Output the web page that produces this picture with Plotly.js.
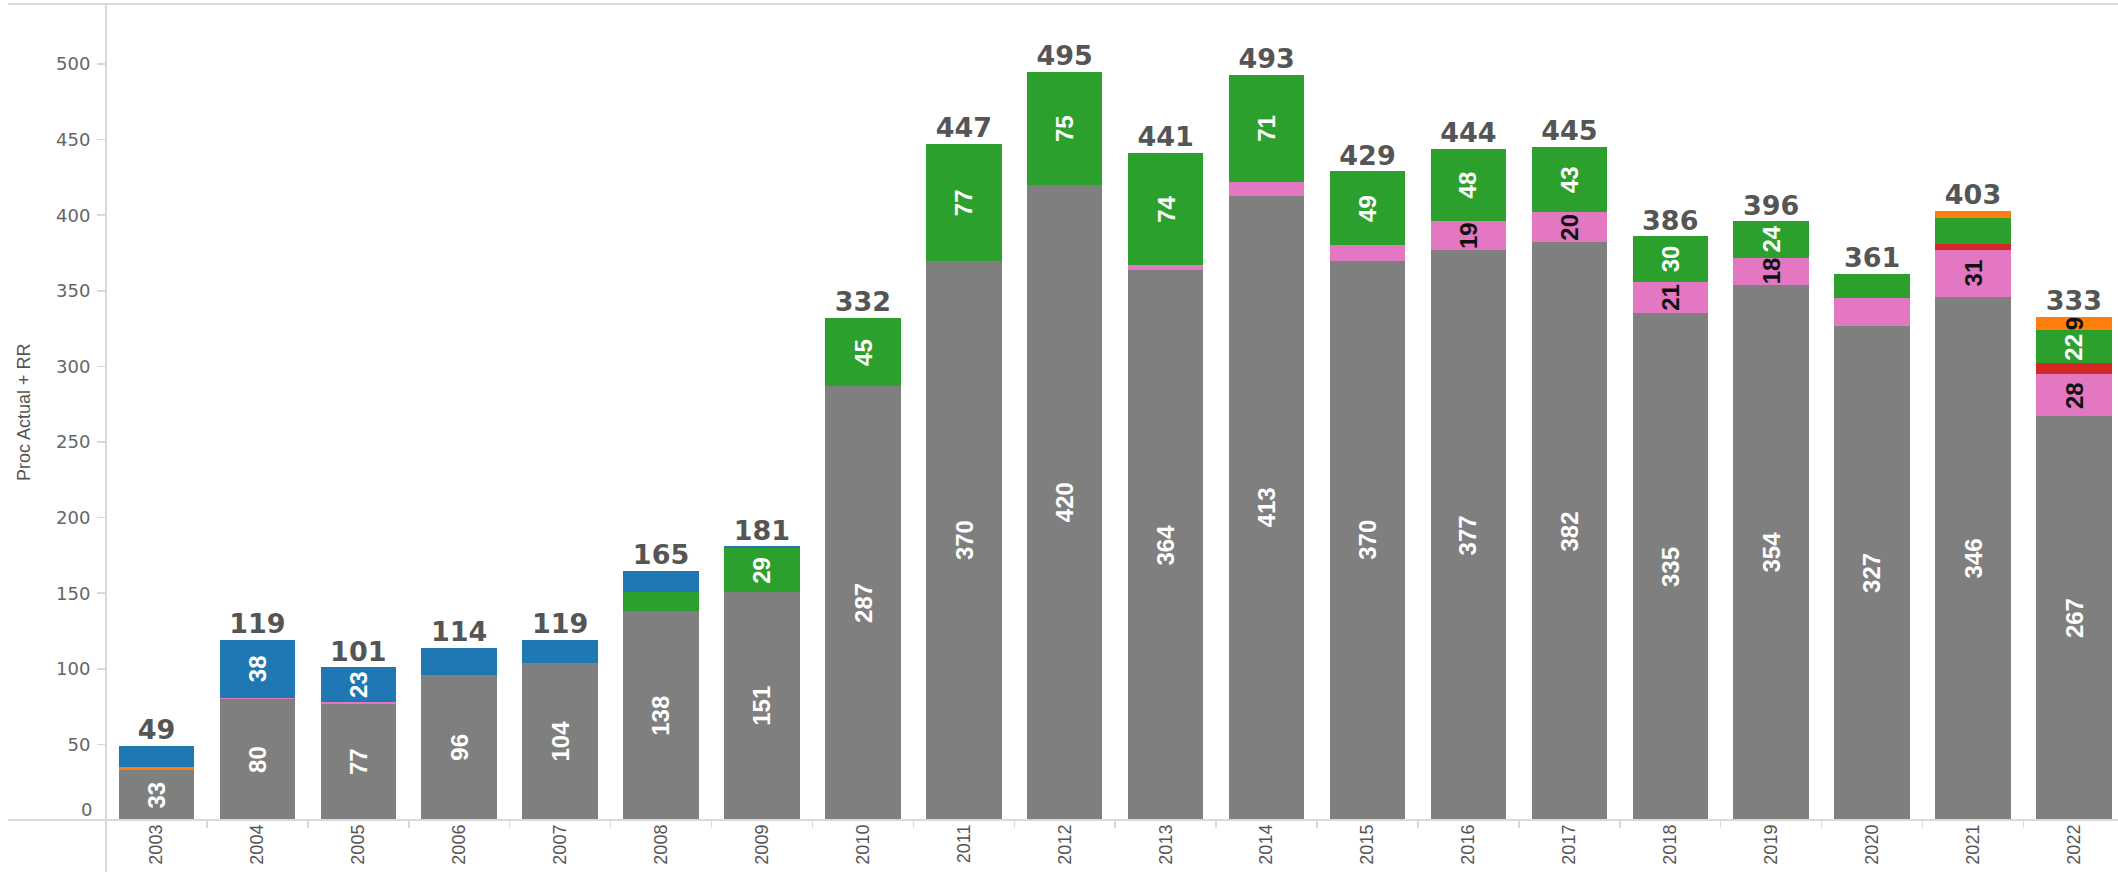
<!DOCTYPE html>
<html>
<head>
<meta charset="utf-8">
<script src="https://cdn.plot.ly/plotly-3.0.1.min.js"></script>
<style>
  html, body { margin: 0; padding: 0; background: #ffffff; }
  #chart { width: 2118px; height: 872px; }
</style>
</head>
<body>
<div id="chart"></div>
<script>
// ---- data ----
const years  = ["2003","2004","2005","2006","2007","2008","2009","2010","2011","2012",
                "2013","2014","2015","2016","2017","2018","2019","2020","2021","2022"];
const gray   = [33, 80, 77, 96, 104, 138, 151, 287, 370, 420, 364, 413, 370, 377, 382, 335, 354, 327, 346, 267];
const pink   = [0, 1, 1, 0, 0, 0, 0, 0, 0, 0, 3, 9, 10, 19, 20, 21, 18, 18, 31, 28];
const red    = [0, 0, 0, 0, 0, 0, 0, 0, 0, 0, 0, 0, 0, 0, 0, 0, 0, 0, 4, 7];
const green  = [0, 0, 0, 0, 0, 13, 29, 45, 77, 75, 74, 71, 49, 48, 43, 30, 24, 16, 17, 22];
const orange = [2, 0, 0, 0, 0, 0, 0, 0, 0, 0, 0, 0, 0, 0, 0, 0, 0, 0, 5, 9];
const blue   = [14, 38, 23, 18, 15, 14, 1, 0, 0, 0, 0, 0, 0, 0, 0, 0, 0, 0, 0, 0];

// which segment labels are visible in the reference (by year)
const grayShown   = years;
const pinkShown   = ["2016","2017","2018","2019","2021","2022"];
const redShown    = [];
const greenShown  = ["2009","2010","2011","2012","2013","2014","2015","2016","2017","2018","2019","2022"];
const orangeShown = ["2022"];
const blueShown   = ["2004","2005"];

const yTicks = [0, 50, 100, 150, 200, 250, 300, 350, 400, 450, 500];
const yTitle = "Proc Actual + RR";

// ---- series in stacking order ----
const series = [
  { name: "gray",   vals: gray,   shown: grayShown,   color: "#7f7f7f", txt: "#ffffff" },
  { name: "pink",   vals: pink,   shown: pinkShown,   color: "#e377c2", txt: "#111111" },
  { name: "red",    vals: red,    shown: redShown,    color: "#d62728", txt: "#111111" },
  { name: "green",  vals: green,  shown: greenShown,  color: "#2ca02c", txt: "#ffffff" },
  { name: "orange", vals: orange, shown: orangeShown, color: "#ff7f0e", txt: "#111111" },
  { name: "blue",   vals: blue,   shown: blueShown,   color: "#1f77b4", txt: "#ffffff" }
];

const traces = series.map(s => ({
  type: "bar", name: s.name, x: years, y: s.vals,
  marker: { color: s.color, line: { width: 0 } },
  hoverinfo: "skip", showlegend: false
}));

const totals = years.map((_, i) => series.reduce((a, s) => a + s.vals[i], 0));
traces.push({
  type: "scatter", mode: "text", x: years, y: totals,
  text: totals.map(String), textposition: "top center",
  textfont: { family: "DejaVu Sans, sans-serif", size: 27, weight: "bold", color: "#555555" },
  hoverinfo: "skip", showlegend: false, cliponaxis: false
});

// segment labels, placed at the middle of each stacked segment
const annotations = [];
const base = years.map(() => 0);
series.forEach(s => {
  s.vals.forEach((v, i) => {
    if (v > 0 && s.shown.indexOf(years[i]) >= 0) {
      annotations.push({
        x: i, y: base[i] + v / 2, xref: "x", yref: "y",
        text: "<b>" + v + "</b>", showarrow: false, textangle: -90,
        xanchor: "center", yanchor: "middle",
        font: { family: "Liberation Sans, Arial, sans-serif", size: 24, color: s.txt }
      });
    }
    base[i] += v;
  });
});

const L = 106, T = 4, B = 52, W = 2118, H = 872;
const plotW = W - L, plotH = H - T - B;
const lineCol = "#d9d9d9";

annotations.push({
  text: yTitle, xref: "paper", yref: "paper", x: (24 - L) / plotW, y: 0.5,
  xanchor: "center", yanchor: "middle", textangle: -90, showarrow: false,
  font: { family: "Liberation Sans, Arial, sans-serif", size: 18, color: "#555555" }
});
// Tableau lifts the bottom "0" tick label above the baseline
annotations.push({
  text: String(yTicks[0]), xref: "paper", yref: "y", x: (94 - L) / plotW, y: yTicks[0],
  xanchor: "right", yanchor: "middle", yshift: 11, showarrow: false,
  font: { family: "DejaVu Sans, sans-serif", size: 18, color: "#666666" }
});

const layout = {
  width: W, height: H,
  margin: { l: L, r: 0, t: T, b: B, pad: 0 },
  paper_bgcolor: "#ffffff", plot_bgcolor: "#ffffff",
  barmode: "stack",
  bargap: 0.252,
  showlegend: false,
  xaxis: {
    type: "category",
    range: [-0.5, 19.5 - 6.4 / 100.92],
    showgrid: false, zeroline: false, showline: false,
    ticks: "outside", tickson: "boundaries", ticklen: 7, tickwidth: 1.5, tickcolor: lineCol,
    tickangle: -90,
    tickfont: { family: "Liberation Sans, Arial, sans-serif", size: 18, color: "#555555" },
    fixedrange: true
  },
  yaxis: {
    range: [0, plotH / 1.512],
    tickvals: yTicks,
    ticktext: yTicks.map((t, i) => i === 0 ? "" : String(t)),
    showgrid: false, zeroline: false, showline: false,
    ticks: "outside", ticklen: 8, tickwidth: 1.5, tickcolor: lineCol,
    tickfont: { family: "DejaVu Sans, sans-serif", size: 18, color: "#666666" },
    ticklabelstandoff: 3,
    fixedrange: true
  },
  shapes: [
    { type: "line", xref: "paper", yref: "paper", x0: (8 - L) / plotW, x1: 1, y0: 0, y1: 0,
      line: { color: lineCol, width: 2 } },
    { type: "line", xref: "paper", yref: "paper", x0: (8 - L) / plotW, x1: 1, y0: 1, y1: 1,
      line: { color: lineCol, width: 2 } },
    { type: "line", xref: "paper", yref: "paper", x0: 0, x1: 0, y0: -B / plotH, y1: 1,
      line: { color: lineCol, width: 2 } }
  ],
  annotations: annotations
};

Plotly.newPlot("chart", traces, layout, { displayModeBar: false, staticPlot: true });
</script>
</body>
</html>
